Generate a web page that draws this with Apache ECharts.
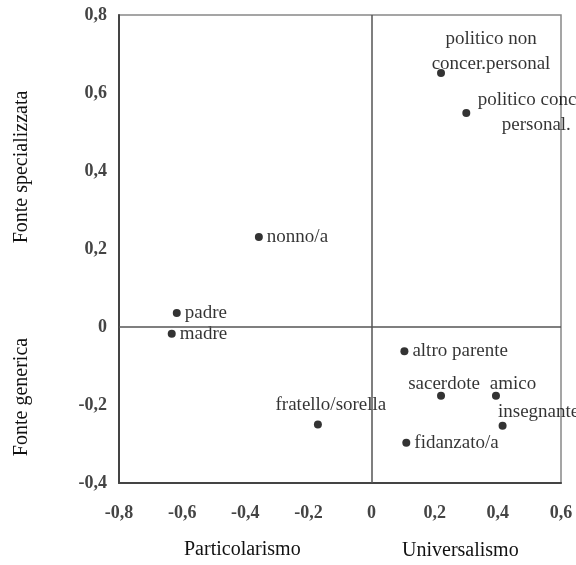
<!DOCTYPE html>
<html><head><meta charset="utf-8">
<script src="https://cdn.jsdelivr.net/npm/echarts@6/dist/echarts.min.js"></script>
<style>html,body{margin:0;padding:0;background:#fff}#c{width:576px;height:565px}</style>
</head><body><div id="c"></div>
<script>
// ---- data ----
const names = ['politico non\nconcer.personal', 'politico concer.\npersonal.', 'nonno/a', 'padre', 'madre',
  'fratello/sorella', 'altro parente', 'sacerdote', 'amico', 'insegnante', 'fidanzato/a'];
const xVals = [0.22, 0.30, -0.357, -0.617, -0.633, -0.17, 0.104, 0.22, 0.394, 0.415, 0.11];
const yVals = [0.651, 0.549, 0.231, 0.036, -0.017, -0.25, -0.062, -0.176, -0.176, -0.253, -0.297];
const xTicks = [-0.8, -0.6, -0.4, -0.2, 0, 0.2, 0.4, 0.6];
const yTicks = [-0.4, -0.2, 0, 0.2, 0.4, 0.6, 0.8];
const xTitles = ['Particolarismo', 'Universalismo'];
const yTitles = ['Fonte specializzata', 'Fonte generica'];

// ---- label placement (style) ----
const labelPlace = [
  {position: 'inside', offset: [50, -22], align: 'center'},
  {position: 'inside', offset: [70, 0], align: 'center'},
  {position: 'right'}, {position: 'right'}, {position: 'right'},
  {position: 'inside', offset: [13, -19], align: 'center'},
  {position: 'right'},
  {position: 'inside', offset: [3, -12], align: 'center'},
  {position: 'inside', offset: [17, -12], align: 'center'},
  {position: 'inside', offset: [36, -14], align: 'center'},
  {position: 'right'}
];

const serif = '"Liberation Serif","Times New Roman",serif';
const fmt = v => (Math.abs(v) < 1e-9 ? '0' : String(+v.toFixed(1)).replace('.', ','));

const data = names.map((n, i) => ({
  name: n,
  value: [xVals[i], yVals[i]],
  label: Object.assign({show: true, formatter: n, fontFamily: serif, fontSize: 19, color: '#000',
    lineHeight: 25, distance: 4, verticalAlign: 'middle'}, labelPlace[i])
}));

const chart = echarts.init(document.getElementById('c'), null, {renderer: 'canvas'});
chart.setOption({
  animation: false,
  backgroundColor: '#fff',
  grid: {left: 119, right: 15, top: 15, bottom: 82, show: true, borderColor: '#888', borderWidth: 1.5},
  xAxis: {
    type: 'value', min: xTicks[0], max: xTicks[xTicks.length - 1], interval: 0.2,
    axisLine: {show: true, onZero: false, lineStyle: {color: '#444', width: 2}},
    axisTick: {show: false}, splitLine: {show: false},
    axisLabel: {formatter: fmt, fontFamily: serif, fontWeight: 'bold', fontSize: 18, color: '#444', margin: 21}
  },
  yAxis: {
    type: 'value', min: yTicks[0], max: yTicks[yTicks.length - 1], interval: 0.2,
    axisLine: {show: true, onZero: false, lineStyle: {color: '#444', width: 2}},
    axisTick: {show: false}, splitLine: {show: false},
    axisLabel: {formatter: fmt, fontFamily: serif, fontWeight: 'bold', fontSize: 18, color: '#444', margin: 12}
  },
  series: [{
    type: 'scatter', symbol: 'circle', symbolSize: 8,
    itemStyle: {color: '#000'},
    data: data,
    markLine: {
      silent: true, symbol: 'none', label: {show: false},
      lineStyle: {color: '#555', width: 1.5, type: 'solid'},
      data: [{xAxis: 0}, {yAxis: 0}]
    }
  }],
  graphic: [
    {type: 'text', left: 184, top: 540, style: {text: xTitles[0], font: '20px ' + serif, fill: '#111'}},
    {type: 'text', left: 402, top: 541, style: {text: xTitles[1], font: '20px ' + serif, fill: '#111'}},
    {type: 'text', x: 22, y: 167, rotation: Math.PI / 2,
      style: {text: yTitles[0], font: '20px ' + serif, fill: '#111', align: 'center', verticalAlign: 'middle'}},
    {type: 'text', x: 22, y: 397, rotation: Math.PI / 2,
      style: {text: yTitles[1], font: '20px ' + serif, fill: '#111', align: 'center', verticalAlign: 'middle'}}
  ]
});
</script></body></html>
